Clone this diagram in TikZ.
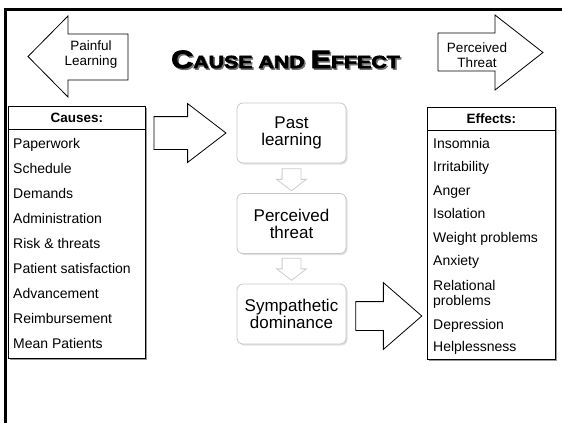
\documentclass[tikz,border=0pt]{standalone}
\usepackage{fontspec}
\setmainfont{Liberation Sans}
\newfontfamily\titlefont[FakeBold=3.5,FakeStretch=1.22]{Liberation Sans Bold}
\usepackage{tikz}
\usetikzlibrary{positioning}
\usetikzlibrary{calc}
\usetikzlibrary{shapes.arrows}
\usetikzlibrary{shadows}

\newcommand\capletter[1]{{\fontsize{25}{25}\selectfont #1}}

\tikzset{
  blockarrow/.style={draw=black, line width=0.8pt, fill=white, line join=miter},
  linkarrow/.style={single arrow, draw=black, line width=0.8pt, fill=white,
    inner sep=0pt, minimum width=0pt},
  downarrow/.style={single arrow, draw=black!20, line width=0.8pt, fill=white,
    inner sep=0pt, minimum width=0pt, rotate=-90, text height=9pt, text depth=9pt,
    single arrow head extend=5.5pt, single arrow tip angle=105, minimum height=22pt},
  arrowtext/.style={align=center, font=\fontsize{13.5}{15}\selectfont, inner sep=0pt},
  titletext/.style={font=\titlefont\fontsize{17.5}{20}\selectfont, inner sep=0pt, anchor=base},
  tablebox/.style={draw=black, line width=0.8pt, fill=white, anchor=north west,
    general shadow={fill=black!40, shadow xshift=1.5pt, shadow yshift=-1.5pt}},
  headcell/.style={draw=black, line width=0.8pt, anchor=north, inner sep=0pt,
    font=\bfseries\fontsize{13.5}{15}\selectfont},
  item/.style={anchor=base west, inner sep=0pt, font=\fontsize{14}{15}\selectfont},
  stepbox/.style={draw=black!22, line width=0.8pt, fill=white, rounded corners=6pt,
    minimum width=109pt, minimum height=60pt, align=center, inner sep=0pt,
    font=\fontsize{17}{17}\selectfont,
    general shadow={fill=black!12, rounded corners=6pt, shadow xshift=1.5pt, shadow yshift=-1.5pt}}
}

\begin{document}
\begin{tikzpicture}[x=1pt, y=-1pt]
  \useasboundingbox (0,0) rectangle (562,423);

  % slide frame
  \draw[line width=3pt] (5,423) -- (5,9.5) -- (562,9.5);

  % title
  \node[titletext, text=black!55] (titleshadow) at (287,69.5) {\capletter{C}AUSE AND \capletter{E}FFECT};
  \node[titletext] (title) at (285.5,68) {\capletter{C}AUSE AND \capletter{E}FFECT};

  % top arrows
  \draw[blockarrow] (128,34) -- (68,34) -- (68,16) -- (28,56.5) -- (68,97) -- (68,80) -- (128,80) -- cycle;
  \node[arrowtext] (painful) at (91,55) {Painful\\Learning};
  \draw[blockarrow] (438,33) -- (495,33) -- (495,15) -- (543,52.5) -- (495,90) -- (495,71) -- (438,71) -- cycle;
  \node[arrowtext] (perceived) at (477,55) {Perceived\\Threat};

  % causes table
  \node[tablebox, minimum width=137pt, minimum height=252pt] (causes) at (8,106) {};
  \node[headcell, minimum width=137pt, minimum height=23pt] (causeshead) at (causes.north) {Causes:};
  \foreach \t [count=\i] in {Paperwork, Schedule, Demands, Administration, Risk \& threats,
      Patient satisfaction, Advancement, Reimbursement, Mean Patients}
    \node[item] (cause\i) at (13,{122.9+25.1*\i}) {\t};

  % effects table
  \node[tablebox, minimum width=128pt, minimum height=252pt] (effects) at (427,107) {};
  \node[headcell, minimum width=128pt, minimum height=23pt] (effectshead) at (effects.north) {Effects:};
  \foreach \t/\y [count=\i] in {Insomnia/148.3, Irritability/171.7, Anger/195, Isolation/218.3,
      Weight problems/242.3, Anxiety/265.7, Relational/290, Depression/329, Helplessness/351.7}
    \node[item] (effect\i) at (433,\y) {\t};
  \node[item] (effect7b) at (433,305) {problems};

  % middle steps
  \node[stepbox] (past) at (291.5,133) {Past\\learning};
  \node[stepbox] (threat) at (291.5,223.5) {Perceived\\threat};
  \node[stepbox] (symp) at (291.5,314) {Sympathetic\\dominance};

  \node[downarrow, anchor=tail] (down1) at ($(past.south)+(0,5)$) {};
  \node[downarrow, anchor=tail] (down2) at ($(threat.south)+(0,4)$) {};

  % links to and from the tables
  \node[linkarrow, anchor=tip, text height=16pt, text depth=16pt, single arrow head extend=13pt,
    single arrow tip angle=75, minimum height=72pt] (inarrow) at ($(past.west)+(-10,0)$) {};
  \node[linkarrow, anchor=tail, text height=14pt, text depth=14pt, single arrow head extend=19pt,
    single arrow tip angle=82, minimum height=66pt] (outarrow) at ($(symp.east)+(9,2)$) {};
\end{tikzpicture}
\end{document}
